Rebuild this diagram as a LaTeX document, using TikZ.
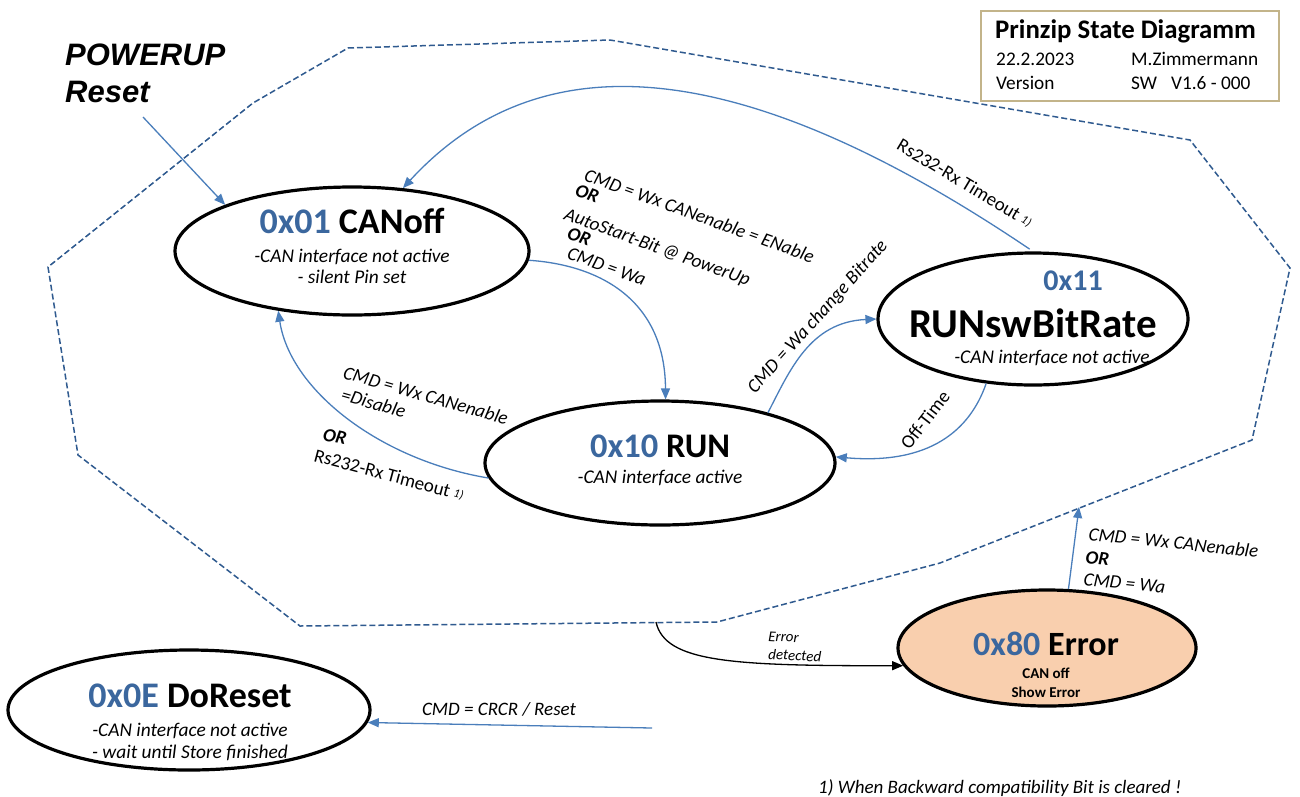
\documentclass[tikz,border=0pt]{standalone}
\usepackage{fontspec}
\setmainfont{Carlito}
\newfontfamily\arialfont{Liberation Sans}
\usetikzlibrary{shapes.geometric,arrows.meta}
\definecolor{hexblue}{HTML}{3B679E}
\definecolor{arrowblue}{HTML}{4A7EBB}
\definecolor{dashblue}{HTML}{2F5A8F}
\definecolor{tanbox}{HTML}{C3B48A}
\definecolor{errfill}{HTML}{F9CFAE}
\newcommand\myfs[1]{\fontsize{#1}{#1}\selectfont}
\newcommand\fnmark{\raisebox{1.5pt}{\myfs{12}\itshape 1)}}
\begin{document}
\begin{tikzpicture}[x=1pt,y=-1pt,
  stateell/.style={draw=black,line width=3.2pt,ellipse,inner sep=0pt},
  conn/.style={draw=arrowblue,line width=1.3pt,-{Triangle[length=11pt,width=9pt]}},
  blackconn/.style={draw=black,line width=1.3pt,-{Triangle[length=11pt,width=9pt]}},
  titletxt/.style={inner sep=0pt,anchor=base,font=\bfseries\myfs{36}},
  subtxt/.style={inner sep=0pt,anchor=base,font=\itshape\myfs{19.4}},
  lbl/.style={inner sep=0pt,anchor=base west,font=\itshape\myfs{19}},
  lblb/.style={inner sep=0pt,anchor=base west,font=\bfseries\itshape\myfs{19}},
  lblr/.style={inner sep=0pt,anchor=base west,font=\myfs{19}},
  lbls/.style={inner sep=0pt,anchor=base west,font=\itshape\myfs{15}},
  boxtxt/.style={inner sep=0pt,anchor=base west,font=\myfs{19.3}},
  boundary/.style={draw=dashblue,line width=1.5pt,dash pattern=on 6pt off 3pt}
]
\fill[white] (0,0) rectangle (1300,796);
\useasboundingbox (0,0) rectangle (1300,796);

% dashed boundary
\draw[boundary] (348,48) -- (610,40) -- (1190,140) -- (1290,268) -- (1252,440) -- (940,563) -- (717,622) -- (300,626) -- (78,455) -- (48,267) -- (253,103) -- cycle;

% title box
\node[draw=tanbox,fill=white,line width=1.5pt,anchor=north west,minimum width=298pt,minimum height=90pt,inner sep=0pt] (tbox) at (980,10) {};
\node[inner sep=0pt,anchor=base west,font=\bfseries\myfs{26.8}] (tt) at (995,38) {Prinzip State Diagramm};
\node[boxtxt] (tdate) at (996,65) {22.2.2023};
\node[boxtxt] (tauth) at (1131,65) {M.Zimmermann};
\node[boxtxt] (tver) at (996,89) {Version};
\node[boxtxt] (tsw) at (1131,89) {SW\hspace{14pt}V1.6 - 000};

% POWERUP
\node[inner sep=0pt,anchor=base west,font=\arialfont\bfseries\itshape\myfs{31}] (pu1) at (65,65) {POWERUP};
\node[inner sep=0pt,anchor=base west,font=\arialfont\bfseries\itshape\myfs{31}] (pu2) at (65,102) {Reset};

% states
\node[stateell,minimum width=354pt,minimum height=128pt] (canoff) at (352,251) {};
\node[titletxt] (canoffT) at (352,233) {\textcolor{hexblue}{0x01} CANoff};
\node[subtxt] (canoffA) at (352,262) {-CAN interface not active};
\node[subtxt] (canoffB) at (352,283) {- silent Pin set};

\node[stateell,minimum width=350pt,minimum height=124pt] (run) at (660,463) {};
\node[titletxt,font=\bfseries\myfs{34.5}] (runT) at (660,457) {\textcolor{hexblue}{0x10} RUN};
\node[subtxt] (runA) at (660,483) {-CAN interface active};

\node[stateell,minimum width=310pt,minimum height=132pt] (rsw) at (1033,319) {};
\node[titletxt,font=\bfseries\myfs{30}] (rswN) at (1073,290) {\textcolor{hexblue}{0x11}};
\node[titletxt,font=\bfseries\myfs{41}] (rswT) at (1033,337) {RUNswBitRate};
\node[subtxt] (rswA) at (1052,363) {-CAN interface not active};

\node[stateell,fill=errfill,minimum width=298pt,minimum height=116pt] (err) at (1047,648) {};
\node[titletxt,font=\bfseries\myfs{34}] (errT) at (1046,655) {\textcolor{hexblue}{0x80} Error};
\node[inner sep=0pt,anchor=base,font=\bfseries\myfs{15}] (errA) at (1046,678) {CAN off};
\node[inner sep=0pt,anchor=base,font=\bfseries\myfs{15}] (errB) at (1046,697) {Show Error};

\node[stateell,minimum width=362pt,minimum height=120pt] (dr) at (189,710) {};
\node[titletxt] (drT) at (190,707) {\textcolor{hexblue}{0x0E} DoReset};
\node[subtxt] (drA) at (190,736) {-CAN interface not active};
\node[subtxt] (drB) at (190,758) {- wait until Store finished};

% connectors
\coordinate (pustart) at (143,117);
\draw[conn] (pustart) -- (canoff.160);

\draw[conn,shorten <=4pt] (rsw.north) .. controls (720,40) and (530,50) .. (canoff.51);
\draw[conn] (canoff.-3) .. controls (600,265) and (665,300) .. (run.85);
\draw[conn] (run.-175) .. controls (380,460) and (290,390) .. (canoff.-141);
\draw[conn] (run.25) .. controls (790,370) and (810,322) .. (rsw.180);
\draw[conn] (rsw.-126) .. controls (970,430) and (930,465) .. (run.2);

\coordinate (errup) at (1079,507);
\draw[conn] (err.70) -- (errup);

\coordinate (bstart) at (656,622);
\draw[blackconn] (bstart) .. controls (665,662) and (730,666) .. (err.-173);

\coordinate (crstart) at (652,728);
\draw[conn] (crstart) -- (dr.-4);

% labels
\node[lbl,rotate=-20] (l1a) at (583,180) {CMD = Wx CANenable = ENable};
\node[lblb,rotate=-20] (l1b) at (574,195) {OR};
\node[lbl,rotate=-20] (l1c) at (563,219) {AutoStart-Bit @ PowerUp};
\node[lblb,rotate=-20] (l1d) at (566,238) {OR};
\node[lbl,rotate=-20] (l1e) at (566,258) {CMD = Wa};

\node[lbl,rotate=-16] (l2a) at (342,378) {CMD = Wx CANenable};
\node[lbl,rotate=-16] (l2b) at (340,400) {=Disable};
\node[lblb,rotate=-12] (l2c) at (322,440) {OR};
\node[lblr,rotate=-15] (l2d) at (313,461) {Rs232-Rx Timeout \fnmark};

\node[lblr,rotate=-31,anchor=center] (l3) at (965,183) {Rs232-Rx Timeout \fnmark};

\node[lbl,rotate=48,anchor=center] (l4) at (818,317) {CMD = Wa change Bitrate};
\node[lblr,rotate=52,anchor=center] (l5) at (925,420) {Off-Time};

\node[lbl,rotate=-6] (l6a) at (1088,540) {CMD = Wx CANenable};
\node[lblb,rotate=-6] (l6b) at (1085,563) {OR};
\node[lbl,rotate=-6] (l6c) at (1083,585) {CMD = Wa};

\node[lbls,rotate=-3] (l7a) at (768,641) {Error};
\node[lbls,rotate=-3] (l7b) at (768,659) {detected};

\node[lbl,anchor=base] (l8) at (499,715) {CMD = CRCR / Reset};

\node[inner sep=0pt,anchor=base west,font=\itshape\myfs{19}] (fn) at (818,793) {1) When Backward compatibility Bit is cleared !};
\end{tikzpicture}
\end{document}
